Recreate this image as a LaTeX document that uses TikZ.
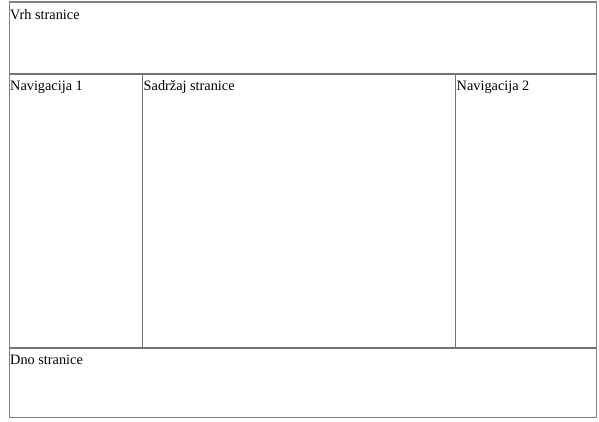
\documentclass[tikz,border=0pt]{standalone}
\usepackage{fontspec}
\setmainfont{Liberation Serif}
\begin{document}
\begin{tikzpicture}[x=1pt,y=1pt,
  cell/.style={draw=black!50, line width=1.2pt, fill=white, inner sep=0pt, anchor=north west},
  divider/.style={draw=black!55, line width=1.2pt},
  lbl/.style={anchor=base west, inner sep=0pt, font=\fontsize{14.3}{16}\selectfont}]
\useasboundingbox[fill=white] (0,0) rectangle (599,-422);
\node[cell, minimum width=587pt, minimum height=415pt] (frame) at (8.5,-1.5) {};
\coordinate (h1w) at (8.5,-74);
\coordinate (h1e) at (595.5,-74);
\coordinate (h2w) at (8.5,-348);
\coordinate (h2e) at (595.5,-348);
\coordinate (v1n) at (142,-74);
\coordinate (v1s) at (142,-348);
\coordinate (v2n) at (455,-74);
\coordinate (v2s) at (455,-348);
\draw[divider] (h1w) -- (h1e);
\draw[divider] (h2w) -- (h2e);
\draw[divider, line width=1pt] (v1n) -- (v1s);
\draw[divider, line width=1pt] (v2n) -- (v2s);
\node[lbl] (vrh) at (10,-20) {Vrh stranice};
\node[lbl] (nav1) at (10,-91) {Navigacija 1};
\node[lbl] (sad) at (143.5,-91) {Sadržaj stranice};
\node[lbl] (nav2) at (456.5,-91) {Navigacija 2};
\node[lbl] (dno) at (10,-364) {Dno stranice};
\end{tikzpicture}
\end{document}
